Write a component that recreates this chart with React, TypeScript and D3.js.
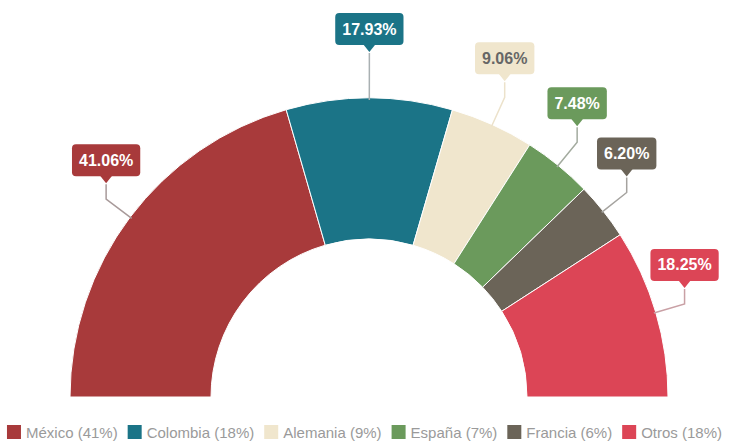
import React, { useEffect, useRef } from 'react';
import * as d3 from 'd3';

const categories = ['México', 'Colombia', 'Alemania', 'España', 'Francia', 'Otros'];
const values = [41.06, 17.93, 9.06, 7.48, 6.2, 18.25];
const legendPct = [41, 18, 9, 7, 6, 18];
const colors = ['#a83a3b', '#1b7487', '#f0e6cd', '#6b9a5c', '#6b6458', '#dc4556'];
const labelTextColors = ['#ffffff', '#ffffff', '#666666', '#ffffff', '#ffffff', '#ffffff'];
const lineColors = ['#a89a9a', '#a9b0b2', '#ece2cb', '#a3ab9f', '#a5a39f', '#c9a0a5'];

const W = 729;
const H = 442;

export default function App() {
  const ref = useRef<SVGSVGElement | null>(null);

  useEffect(() => {
    const svg = d3.select(ref.current);
    svg.selectAll('*').remove();

    const cx = 369;
    const cy = 397;
    const rOuter = 299;
    const rInner = 158;
    const font = "'Helvetica Neue', Helvetica, Arial, 'Liberation Sans', sans-serif";

    const pie = d3
      .pie<number>()
      .sort(null)
      .startAngle(-Math.PI / 2)
      .endAngle(Math.PI / 2)
      .value((d) => d);
    const arcs = pie(values);
    const arc = d3.arc<d3.PieArcDatum<number>>().innerRadius(rInner).outerRadius(rOuter);

    const g = svg.append('g').attr('transform', `translate(${cx},${cy})`);
    g.selectAll('path.slice')
      .data(arcs)
      .join('path')
      .attr('class', 'slice')
      .attr('d', arc as any)
      .attr('fill', (_, i) => colors[i])
      .attr('stroke', '#ffffff')
      .attr('stroke-width', 1);

    const pt = (a: number, r: number): [number, number] => [r * Math.sin(a), -r * Math.cos(a)];

    arcs.forEach((d, i) => {
      const a = (d.startAngle + d.endAngle) / 2;
      const p0 = pt(a, rOuter - 2);
      const p1 = pt(a, 329);
      const tipY = p1[1] - 16;
      const boxBottom = tipY - 7;
      const boxH = 32;
      g.append('polyline')
        .attr('points', [p0, p1, [p1[0], tipY + 1]].map((p) => p.join(',')).join(' '))
        .attr('fill', 'none')
        .attr('stroke', lineColors[i])
        .attr('stroke-width', 1.5);

      const lg = g.append('g');
      const text = lg
        .append('text')
        .attr('x', p1[0])
        .attr('y', boxBottom - boxH / 2)
        .attr('text-anchor', 'middle')
        .attr('dominant-baseline', 'central')
        .attr('font-family', font)
        .attr('font-weight', 'bold')
        .attr('font-size', 16)
        .attr('fill', labelTextColors[i])
        .text(values[i].toFixed(2) + '%');
      const tw = (text.node() as SVGTextElement).getComputedTextLength();
      const bw = tw + 14;
      lg.insert('path', 'text')
        .attr(
          'd',
          `M${p1[0] - 6},${boxBottom - 0.5} L${p1[0]},${tipY} L${p1[0] + 6},${boxBottom - 0.5} Z`
        )
        .attr('fill', colors[i]);
      lg.insert('rect', 'text')
        .attr('x', p1[0] - bw / 2)
        .attr('y', boxBottom - boxH)
        .attr('width', bw)
        .attr('height', boxH)
        .attr('rx', 4)
        .attr('fill', colors[i]);
    });

    // Legend
    const leg = svg.append('g');
    const items: { g: any; w: number }[] = [];
    categories.forEach((c, i) => {
      const ig = leg.append('g');
      ig.append('rect')
        .attr('x', 0)
        .attr('y', 425)
        .attr('width', 14)
        .attr('height', 14)
        .attr('fill', colors[i]);
      const t = ig
        .append('text')
        .attr('x', 19)
        .attr('y', 437.5)
        .attr('font-family', font)
        .attr('font-size', 15)
        .attr('fill', '#9a9a9a')
        .text(`${c} (${legendPct[i]}%)`);
      const w = 19 + (t.node() as SVGTextElement).getComputedTextLength();
      items.push({ g: ig, w });
    });
    const gap = 10;
    const total = items.reduce((s, it) => s + it.w, 0) + gap * (items.length - 1);
    let x = (W - total) / 2;
    items.forEach((it) => {
      it.g.attr('transform', `translate(${x},0)`);
      x += it.w + gap;
    });
  }, []);

  return (
    <svg
      ref={ref}
      width={W}
      height={H}
      style={{ position: 'absolute', left: 0, top: 0, background: '#ffffff' }}
    />
  );
}
